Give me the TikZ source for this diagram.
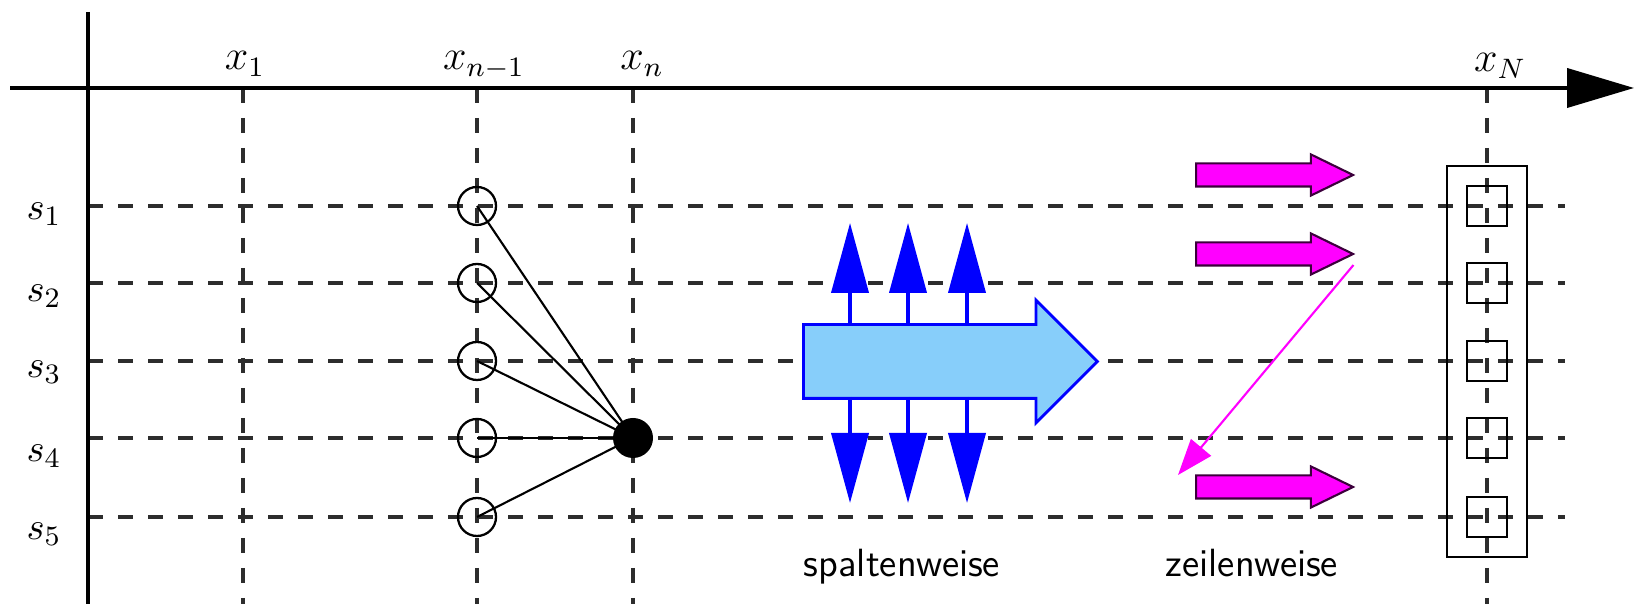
\documentclass[tikz,border=0pt]{standalone}
\usepackage{tikz}
\usetikzlibrary{
  shapes.arrows,
  arrows.meta,
  positioning,
  fit
}
\definecolor{gridgray}{RGB}{45,45,45}
\definecolor{colblue}{RGB}{0,0,255}
\definecolor{colfill}{RGB}{135,206,250}
\definecolor{rowmagenta}{RGB}{255,0,255}
\definecolor{rowborder}{RGB}{60,0,60}
\tikzset{
  axisline/.style={
    draw=black, line width=1.1pt
  },
  axisarrow/.style={
    -{Triangle[length=6.7mm,width=3.9mm]},
    draw=black, line width=1.1pt
  },
  gridline/.style={
    draw=gridgray, line width=0.9pt,
    dash pattern=on 1.5mm off 1.5mm
  },
  statecircle/.style={
    circle, draw=black, line width=0.65pt,
    minimum size=3.8mm, inner sep=0pt
  },
  statedot/.style={
    circle, fill=black,
    minimum size=4.0mm, inner sep=0pt
  },
  transline/.style={
    draw=black, line width=0.6pt
  },
  colarrowbig/.style={
    single arrow, draw=colblue, fill=colfill, line width=0.8pt,
    minimum height=29.4mm, inner xsep=0pt, inner ysep=3.55mm,
    single arrow head extend=2.45mm, single arrow tip angle=90,
    anchor=tail
  },
  colarrow/.style={
    -{Triangle[length=7mm,width=3.7mm]},
    draw=colblue, line width=1.1pt
  },
  rowarrowbig/.style={
    single arrow, draw=rowborder, fill=rowmagenta, line width=0.6pt,
    minimum height=15.7mm, inner xsep=0pt, inner ysep=1.05mm,
    single arrow head extend=0.9mm, single arrow tip angle=52,
    anchor=tail
  },
  rowjump/.style={
    -{Triangle[length=3.6mm,width=2.6mm]},
    draw=rowmagenta, line width=0.6pt
  },
  cellbox/.style={
    draw=black, line width=0.55pt,
    minimum size=4mm, inner sep=0pt
  },
  stackbox/.style={
    draw=black, line width=0.55pt, inner sep=1.9mm
  },
  axislabel/.style={
    font=\large, anchor=base, inner sep=0pt
  },
  rowlabel/.style={
    font=\fontsize{11}{13}\selectfont, anchor=base east, inner sep=0pt
  },
  modelabel/.style={
    font=\fontsize{11.2}{13}\selectfont\sffamily,
    anchor=base, inner sep=0pt
  },
}

\begin{document}
\begin{tikzpicture}[x=0.1mm, y=-0.1mm]

  \useasboundingbox (0,0) rectangle (1636,604);

  %% Grid
  \foreach \gx in {243,477,633,1487}
    \draw[gridline] (\gx,88) -- (\gx,604);
  \foreach \gy in {206,283,361,438,517}
    \draw[gridline] (88,\gy) -- (1565,\gy);

  %% Axes
  \draw[axisarrow] (10,88) -- (1634,88);
  \draw[axisline] (88,12) -- (88,604);

  %% Axis labels
  \node[axislabel] (x1) at (245,70) {$x_1$};
  \node[axislabel] (xm) at (484,70) {$x_{n-1}$};
  \node[axislabel] (xn) at (642,70) {$x_n$};
  \node[axislabel] (xN) at (1500,72) {$x_N$};
  \foreach \by [count=\i] in {220,302,378,462,540}
    \node[rowlabel] (s\i) at (62,\by) {$s_{\i}$};

  %% Trellis step
  \foreach \gy [count=\i] in {206,283,361,438,517}
    \node[statecircle] (c\i) at (477,\gy) {};
  \node[statedot] (d) at (633,438) {};
  \foreach \i in {1,...,5}
    \draw[transline] (c\i.center) -- (d.center);

  %% spaltenweise
  \node[colarrowbig] (sp) at (802,361.5) {};
  \foreach \dx in {4.8,10.6,16.5} {
    \draw[colarrow] ([xshift=\dx mm, yshift=3.55mm]sp.tail)
      -- ([xshift=\dx mm, yshift=13.85mm]sp.tail);
    \draw[colarrow] ([xshift=\dx mm, yshift=-3.55mm]sp.tail)
      -- ([xshift=\dx mm, yshift=-14.15mm]sp.tail);
  }
  \node[modelabel] (spl) at (902,577) {spaltenweise};

  %% zeilenweise
  \foreach \gy [count=\i] in {175,254,487}
    \node[rowarrowbig] (z\i) at (1195,\gy) {};
  \draw[rowjump] ([xshift=-0.2mm, yshift=-1.1mm]z2.tip)
    -- ([xshift=-1.7mm, yshift=1.2mm]z3.tail);
  \node[modelabel] (zl) at (1252,577) {zeilenweise};

  %% Output column
  \foreach \gy [count=\i] in {206,283,361,438,517}
    \node[cellbox] (q\i) at (1487,\gy) {};
  \node[stackbox, fit=(q1)(q5)] (stack) {};

\end{tikzpicture}
\end{document}
